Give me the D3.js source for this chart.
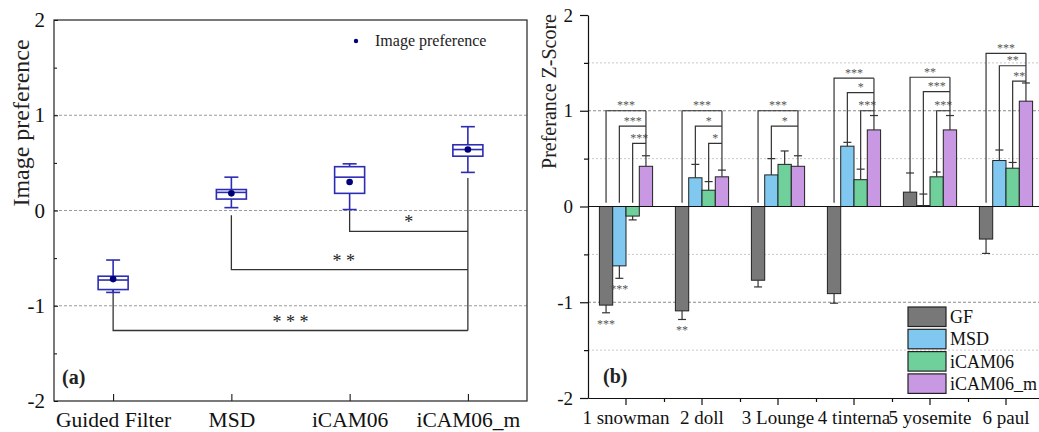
<!DOCTYPE html>
<html>
<head>
<meta charset="utf-8">
<script src="https://cdn.jsdelivr.net/npm/d3@7"></script>
<style>
  html, body { margin: 0; padding: 0; background: #fff; }
  svg { display: block; }
  svg text { font-family: "Liberation Serif", "Times New Roman", serif; }
</style>
</head>
<body>
<div id="chart"></div>
<script>
// ---- panel (a): box plot data ----
const methods = ['Guided Filter', 'MSD', 'iCAM06', 'iCAM06_m'];
const whiskerLow = [-0.86, 0.03, 0.01, 0.40];
const q1 = [-0.83, 0.12, 0.18, 0.57];
const medians = [-0.73, 0.19, 0.35, 0.64];
const q3 = [-0.69, 0.22, 0.46, 0.69];
const whiskerHigh = [-0.52, 0.35, 0.49, 0.88];
const means = [-0.72, 0.18, 0.30, 0.64];

// significance of each method against iCAM06_m
const sigFrom = [2, 1, 0];
const sigStart = [0.0, -0.05, -0.83];
const sigLevel = [-0.22, -0.62, -1.26];
const sigLabel = ['*', '* *', '* * *'];

// ---- panel (b): grouped bars ----
const scenes = ['1 snowman', '2 doll', '3 Lounge', '4 tinterna', '5 yosemite', '6 paul'];
const series = ['GF', 'MSD', 'iCAM06', 'iCAM06_m'];
const gfMean = [-1.03, -1.09, -0.77, -0.91, 0.15, -0.34];
const gfErr = [0.08, 0.09, 0.07, 0.10, 0.20, 0.15];
const msdMean = [-0.62, 0.30, 0.33, 0.63, 0.01, 0.48];
const msdErr = [0.13, 0.14, 0.17, 0.04, 0.12, 0.11];
const icamMean = [-0.10, 0.17, 0.44, 0.28, 0.31, 0.40];
const icamErr = [0.04, 0.09, 0.14, 0.11, 0.05, 0.06];
const icamMMean = [0.42, 0.31, 0.42, 0.80, 0.80, 1.10];
const icamMErr = [0.11, 0.07, 0.11, 0.15, 0.15, 0.19];

// brackets: scene index, series compared with iCAM06_m, bracket level, label
const bracketScene = [0, 0, 0, 1, 1, 1, 2, 2, 3, 3, 3, 4, 4, 4, 5, 5, 5];
const bracketFrom  = [0, 1, 2, 0, 1, 2, 0, 1, 0, 1, 2, 0, 1, 2, 0, 1, 2];
const bracketLevel = [1.00, 0.84, 0.66, 1.00, 0.84, 0.66, 1.00, 0.84, 1.34, 1.19, 1.00, 1.35, 1.20, 1.00, 1.60, 1.47, 1.31];
const bracketLabel = ['***', '***', '***', '***', '*', '*', '***', '*', '***', '*', '***', '**', '***', '***', '***', '**', '**'];

// marks under negative bars
const belowScene = [0, 0, 1];
const belowSeries = [0, 1, 0];
const belowLabel = ['***', '***', '**'];

const seriesColors = ['#787878', '#80c8ef', '#6fd09b', '#c898e3'];

const width = 1039, height = 432;
const serif = '"Liberation Serif", "Times New Roman", serif';

const svg = d3.select('#chart')
  .append('svg')
  .attr('width', width)
  .attr('height', height);

const styleTicks = size => g => g
  .attr('font-family', null)
  .selectAll('text')
  .style('font-family', serif)
  .style('font-size', size + 'px')
  .attr('fill', '#111');

/*
 * Panel (a)
 */
const pa = { left: 54, right: 527, top: 20, bottom: 401 };
const yA = d3.scaleLinear().domain([-2, 2]).range([pa.bottom, pa.top]);
const xA = d3.scalePoint().domain(methods).range([pa.left, pa.right]).padding(0.5);
const gA = svg.append('g');

gA.selectAll('.grid')
  .data([-1, 0, 1])
  .enter().append('line')
  .attr('x1', pa.left).attr('x2', pa.right)
  .attr('y1', d => yA(d)).attr('y2', d => yA(d))
  .attr('stroke', '#9a9a9a')
  .attr('stroke-dasharray', '3,2');

gA.append('g')
  .attr('transform', `translate(${pa.left},0)`)
  .call(d3.axisLeft(yA).tickValues([-2, -1, 0, 1, 2]).tickSize(-4).tickPadding(9).tickFormat(d => String(d)))
  .call(g => g.select('.domain').remove())
  .call(styleTicks(21));

gA.append('g')
  .attr('transform', `translate(${pa.left},0)`)
  .call(d3.axisLeft(yA).tickValues([-1.5, -0.5, 0.5, 1.5]).tickSize(-3).tickFormat(''))
  .call(g => g.select('.domain').remove());

gA.append('g')
  .attr('transform', `translate(0,${pa.bottom})`)
  .call(d3.axisBottom(xA).tickSize(-7).tickPadding(11))
  .call(g => g.select('.domain').remove())
  .call(styleTicks(21.5));

gA.append('rect')
  .attr('x', pa.left).attr('y', pa.top)
  .attr('width', pa.right - pa.left).attr('height', pa.bottom - pa.top)
  .attr('fill', 'none')
  .attr('stroke', '#222')
  .attr('stroke-width', 1.2);

gA.append('text')
  .attr('transform', 'translate(29,123) rotate(-90)')
  .attr('text-anchor', 'middle')
  .attr('font-size', 24)
  .attr('fill', '#222')
  .text('Image preference');

// significance brackets
const lastX = xA(methods[3]);
sigFrom.forEach((m, i) => {
  const x0 = xA(methods[m]);
  const yLevel = yA(sigLevel[i]);
  gA.append('path')
    .attr('d', `M${x0},${yA(sigStart[i])}V${yLevel}H${lastX}`)
    .attr('fill', 'none')
    .attr('stroke', '#333')
    .attr('stroke-width', 1.3);
  gA.append('text')
    .attr('x', (x0 + lastX) / 2 - (m === 1 ? 6 : 0))
    .attr('y', yLevel - 3)
    .attr('text-anchor', 'middle')
    .attr('font-size', 18)
    .attr('fill', '#222')
    .text(sigLabel[i]);
});
gA.append('line')
  .attr('x1', lastX).attr('x2', lastX)
  .attr('y1', yA(whiskerLow[3] - 0.06))
  .attr('y2', yA(d3.min(sigLevel)))
  .attr('stroke', '#333')
  .attr('stroke-width', 1.3);

// boxes
const boxW = 30, capW = 14, boxColor = '#2c2cb4';
methods.forEach((m, i) => {
  const cx = xA(m);
  const g = gA.append('g').attr('stroke', boxColor).attr('stroke-width', 1.6).attr('fill', 'none');
  g.append('line').attr('x1', cx).attr('x2', cx).attr('y1', yA(whiskerHigh[i])).attr('y2', yA(q3[i]));
  g.append('line').attr('x1', cx).attr('x2', cx).attr('y1', yA(q1[i])).attr('y2', yA(whiskerLow[i]));
  g.append('line').attr('x1', cx - capW / 2).attr('x2', cx + capW / 2).attr('y1', yA(whiskerHigh[i])).attr('y2', yA(whiskerHigh[i]));
  g.append('line').attr('x1', cx - capW / 2).attr('x2', cx + capW / 2).attr('y1', yA(whiskerLow[i])).attr('y2', yA(whiskerLow[i]));
  g.append('rect')
    .attr('x', cx - boxW / 2).attr('y', yA(q3[i]))
    .attr('width', boxW).attr('height', yA(q1[i]) - yA(q3[i]))
    .attr('fill', '#fff');
  g.append('line').attr('x1', cx - boxW / 2).attr('x2', cx + boxW / 2).attr('y1', yA(medians[i])).attr('y2', yA(medians[i]));
  gA.append('circle')
    .attr('cx', cx).attr('cy', yA(means[i])).attr('r', 3.3)
    .attr('fill', '#00007a');
});

// legend
gA.append('circle').attr('cx', 356).attr('cy', 41).attr('r', 2.2).attr('fill', '#00007a');
gA.append('text').attr('x', 375).attr('y', 46).attr('font-size', 16).attr('fill', '#222').text('Image preference');

gA.append('text')
  .attr('x', 62).attr('y', 384)
  .attr('font-size', 20).attr('font-weight', 'bold').attr('fill', '#222')
  .text('(a)');

/*
 * Panel (b)
 */
const pb = { left: 588, right: 1044, top: 15, bottom: 398 };
const yB = d3.scaleLinear().domain([-2, 2]).range([pb.bottom, pb.top]);
const xB = d3.scaleBand().domain(scenes).range([pb.left, pb.right]).paddingInner(0.3).paddingOuter(0.15);
const xS = d3.scaleBand().domain(series).range([0, xB.bandwidth()]);
const xEdge = d3.scaleLinear().domain([0, scenes.length]).range([pb.left, pb.right]);
const gB = svg.append('g');

const means2 = [gfMean, msdMean, icamMean, icamMMean];
const errs2 = [gfErr, msdErr, icamErr, icamMErr];

const gridVals = [1.5, 1, 0.5, -0.5, -1, -1.5];
gB.selectAll('.grid')
  .data(gridVals)
  .enter().append('line')
  .attr('x1', pb.left).attr('x2', width)
  .attr('y1', d => yB(d)).attr('y2', d => yB(d))
  .attr('stroke', d => Math.abs(d) === 1 ? '#8a8a8a' : '#c8c8c8')
  .attr('stroke-dasharray', d => Math.abs(d) === 1 ? '3,2' : '2,2');

// bars
const barData = [];
scenes.forEach((sc, i) => series.forEach((s, j) => {
  barData.push({ scene: sc, series: s, j, value: means2[j][i], err: errs2[j][i] });
}));

const barX = d => xB(d.scene) + xS(d.series);
const barCx = d => barX(d) + xS.bandwidth() / 2;

gB.selectAll('.bar')
  .data(barData)
  .enter().append('rect')
  .attr('x', barX)
  .attr('y', d => yB(Math.max(d.value, 0)))
  .attr('width', xS.bandwidth())
  .attr('height', d => Math.abs(yB(d.value) - yB(0)))
  .attr('fill', d => seriesColors[d.j])
  .attr('stroke', '#222')
  .attr('stroke-width', 1);

gB.append('line')
  .attr('x1', pb.left).attr('x2', width)
  .attr('y1', yB(0)).attr('y2', yB(0))
  .attr('stroke', '#111').attr('stroke-width', 1.2);

// error bars (outward only)
const errEnd = d => d.value >= 0 ? d.value + d.err : d.value - d.err;
const eb = gB.selectAll('.err').data(barData).enter().append('g')
  .attr('stroke', '#333').attr('stroke-width', 1.2);
eb.append('line')
  .attr('x1', barCx).attr('x2', barCx)
  .attr('y1', d => yB(d.value)).attr('y2', d => yB(errEnd(d)));
eb.append('line')
  .attr('x1', d => barCx(d) - 4).attr('x2', d => barCx(d) + 4)
  .attr('y1', d => yB(errEnd(d))).attr('y2', d => yB(errEnd(d)));

// brackets
const findBar = (si, j) => barData[si * series.length + j];
const startOf = d => d.value < 0 ? 0.04 : d.value + d.err;

bracketScene.forEach((si, k) => {
  const from = findBar(si, bracketFrom[k]);
  const to = findBar(si, 3);
  const x0 = barCx(from), x1 = barCx(to);
  const yl = yB(bracketLevel[k]);
  gB.append('path')
    .attr('d', `M${x0},${yB(startOf(from))}V${yl}H${x1}`)
    .attr('fill', 'none')
    .attr('stroke', '#333')
    .attr('stroke-width', 1.2);
  gB.append('text')
    .attr('x', (x0 + x1) / 2)
    .attr('y', yl - 1.5)
    .attr('text-anchor', 'middle')
    .attr('font-size', 12)
    .attr('fill', '#555')
    .text(bracketLabel[k]);
});
scenes.forEach((sc, si) => {
  const to = findBar(si, 3);
  const top = d3.max(bracketLevel.filter((v, k) => bracketScene[k] === si));
  gB.append('line')
    .attr('x1', barCx(to)).attr('x2', barCx(to))
    .attr('y1', yB(startOf(to))).attr('y2', yB(top))
    .attr('stroke', '#333').attr('stroke-width', 1.2);
});

belowScene.forEach((si, k) => {
  const d = findBar(si, belowSeries[k]);
  gB.append('text')
    .attr('x', barCx(d))
    .attr('y', yB(errEnd(d)) + 15)
    .attr('text-anchor', 'middle')
    .attr('font-size', 12)
    .attr('fill', '#555')
    .text(belowLabel[k]);
});

// axes
gB.append('g')
  .attr('transform', `translate(${pb.left},0)`)
  .call(d3.axisLeft(yB).tickValues([-2, -1, 0, 1, 2]).tickSize(8).tickSizeOuter(0).tickPadding(7).tickFormat(d => String(d)))
  .call(styleTicks(19))
  .call(g => g.selectAll('line, path').attr('stroke', '#111').attr('stroke-width', 1.2));

gB.append('g')
  .attr('transform', `translate(${pb.left},0)`)
  .call(d3.axisLeft(yB).tickValues([-1.5, -0.5, 0.5, 1.5]).tickSize(4).tickSizeOuter(0).tickFormat(''))
  .call(g => g.select('.domain').remove())
  .call(g => g.selectAll('line').attr('stroke', '#111').attr('stroke-width', 1.2));

gB.append('g')
  .attr('transform', `translate(0,${pb.bottom})`)
  .call(d3.axisBottom(xB).tickSize(7).tickSizeOuter(0).tickPadding(6))
  .call(styleTicks(19))
  .call(g => g.selectAll('line, path').attr('stroke', '#111').attr('stroke-width', 1.2));

gB.append('g')
  .attr('transform', `translate(0,${pb.bottom})`)
  .call(d3.axisBottom(xEdge).tickValues(d3.range(1, scenes.length)).tickSize(4).tickFormat(''))
  .call(g => g.select('.domain').remove())
  .call(g => g.selectAll('line').attr('stroke', '#111').attr('stroke-width', 1.2));

gB.append('text')
  .attr('transform', `translate(556,${(pb.top + 168) / 2}) rotate(-90)`)
  .attr('text-anchor', 'middle')
  .attr('font-size', 20)
  .attr('fill', '#222')
  .text('Preferance Z-Score');

gB.append('text')
  .attr('x', 603).attr('y', 383)
  .attr('font-size', 20).attr('font-weight', 'bold').attr('fill', '#222')
  .text('(b)');

// legend
const legend = gB.append('g').attr('transform', 'translate(908,307)');
series.forEach((s, j) => {
  legend.append('rect')
    .attr('x', 0).attr('y', j * 22.3)
    .attr('width', 38).attr('height', 19.5)
    .attr('fill', seriesColors[j])
    .attr('stroke', '#222').attr('stroke-width', 1.2);
  legend.append('text')
    .attr('x', 42).attr('y', j * 22.3 + 16)
    .attr('font-size', 18).attr('fill', '#111')
    .text(s);
});
</script>
</body>
</html>
